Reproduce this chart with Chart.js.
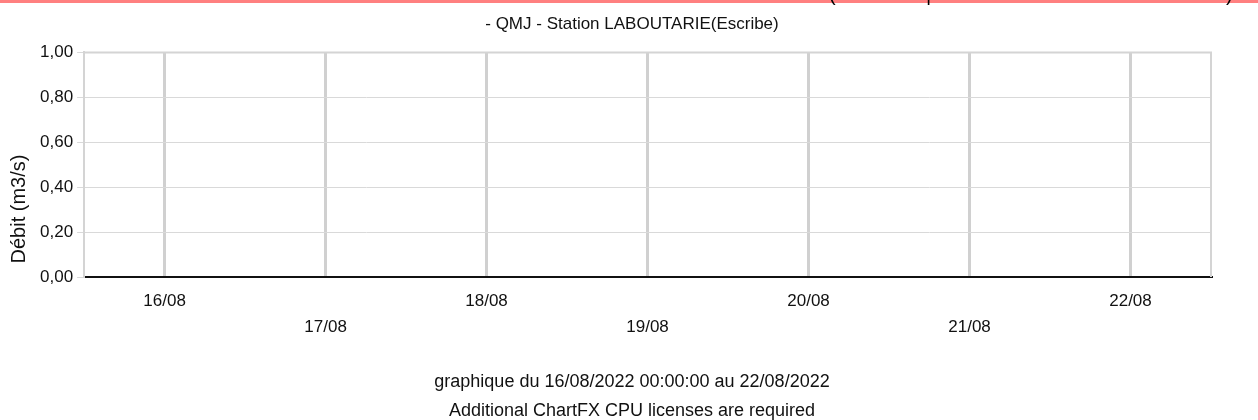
<!DOCTYPE html>
<html>
<head>
<meta charset="utf-8">
<script src="https://cdn.jsdelivr.net/npm/chart.js@4"></script>
<style>
  body { margin: 0; background: #fff; }
  #wrap { width: 1258px; height: 420px; position: relative; }
</style>
</head>
<body>
<div id="wrap"><canvas id="debitChart" width="1258" height="420"></canvas></div>
<script>
// données (aucune valeur de débit affichée)
const jours = ["16/08", "17/08", "18/08", "19/08", "20/08", "21/08", "22/08"];
const debit = [null, null, null, null, null, null, null];
const graduationsY = [0, 0.2, 0.4, 0.6, 0.8, 1.0];

const titre = "- QMJ - Station LABOUTARIE(Escribe)";
const titreAxeY = "Débit (m3/s)";
const piedDePage = [
    "graphique du 16/08/2022 00:00:00 au 22/08/2022",
    "Additional ChartFX CPU licenses are required",
];

const police = "'Liberation Sans', Arial, sans-serif";
const couleurTexte = "#111";

// bandeau rose coupé en haut, cadre du graphique et titre de l'axe Y
const decor = {
    id: "decor",
    beforeDraw(chart) {
        const ctx = chart.ctx;
        ctx.save();
        ctx.fillStyle = "#ff8080";
        ctx.fillRect(0, 0, chart.width, 3);
        ctx.fillStyle = "#000";
        ctx.font = "20px " + police;
        ctx.textBaseline = "alphabetic";
        ctx.fillText("(", 829, 1);
        ctx.fillText("|", 926, 1);
        ctx.fillText(")", 1226, 1);
        ctx.restore();
    },
    afterDraw(chart) {
        const ctx = chart.ctx;
        const a = chart.chartArea;
        ctx.save();
        ctx.strokeStyle = "#d4d4d4";
        ctx.lineWidth = 2;
        ctx.beginPath();
        ctx.moveTo(a.left, a.top);
        ctx.lineTo(a.right, a.top);
        ctx.lineTo(a.right, a.bottom);
        ctx.stroke();

        ctx.fillStyle = couleurTexte;
        ctx.font = "20px " + police;
        ctx.textAlign = "center";
        ctx.textBaseline = "middle";
        ctx.translate(19, a.bottom - 68);
        ctx.rotate(-Math.PI / 2);
        ctx.fillText(titreAxeY, 0, 0);
        ctx.restore();
    },
};

const ctx = document.getElementById("debitChart").getContext("2d");
new Chart(ctx, {
    type: "line",
    data: {
        labels: jours,
        datasets: [
            {
                label: "QMJ",
                data: debit,
                borderColor: "#0000ff",
                borderWidth: 2,
                pointRadius: 0,
                fill: false,
            },
        ],
    },
    options: {
        responsive: false,
        animation: false,
        layout: {
            padding: { left: 36, right: 30, top: 0, bottom: -6 },
        },
        plugins: {
            legend: { display: false },
            tooltip: { enabled: false },
            title: {
                display: true,
                text: titre,
                color: couleurTexte,
                font: { family: police, size: 17, weight: "normal" },
                padding: { top: 14, bottom: 18 },
            },
            subtitle: {
                display: true,
                position: "bottom",
                text: piedDePage,
                color: couleurTexte,
                font: { family: police, size: 18, lineHeight: 29 / 18 },
                padding: { top: 17, bottom: 0 },
            },
        },
        scales: {
            x: {
                type: "category",
                offset: true,
                grid: {
                    offset: false,
                    color: "#d0d0d0",
                    lineWidth: 3,
                    drawTicks: false,
                },
                border: { color: "#111", width: 2 },
                ticks: {
                    color: couleurTexte,
                    font: { family: police, size: 17, lineHeight: 26 / 17 },
                    padding: 11,
                    maxRotation: 0,
                    autoSkip: false,
                    callback: function (value, index) {
                        const j = jours[index];
                        return index % 2 === 0 ? j : ["", j];
                    },
                },
            },
            y: {
                min: 0,
                max: 1,
                grid: {
                    color: "#d9d9d9",
                    lineWidth: 1,
                    tickLength: 7,
                },
                border: { color: "#d4d4d4", width: 2 },
                afterBuildTicks: function (scale) {
                    scale.ticks = graduationsY.map((v) => ({ value: v }));
                },
                ticks: {
                    color: couleurTexte,
                    font: { family: police, size: 17 },
                    padding: 4,
                    callback: function (value) {
                        return Number(value).toFixed(2).replace(".", ",");
                    },
                },
            },
            // marge droite vide (aucun tracé)
            marge: {
                position: "right",
                min: 0,
                max: 1,
                grid: { display: false, drawTicks: false },
                border: { display: false },
                ticks: { display: false },
                afterFit: function (scale) {
                    scale.width = 17;
                },
            },
        },
    },
    plugins: [decor],
});
</script>
</body>
</html>
